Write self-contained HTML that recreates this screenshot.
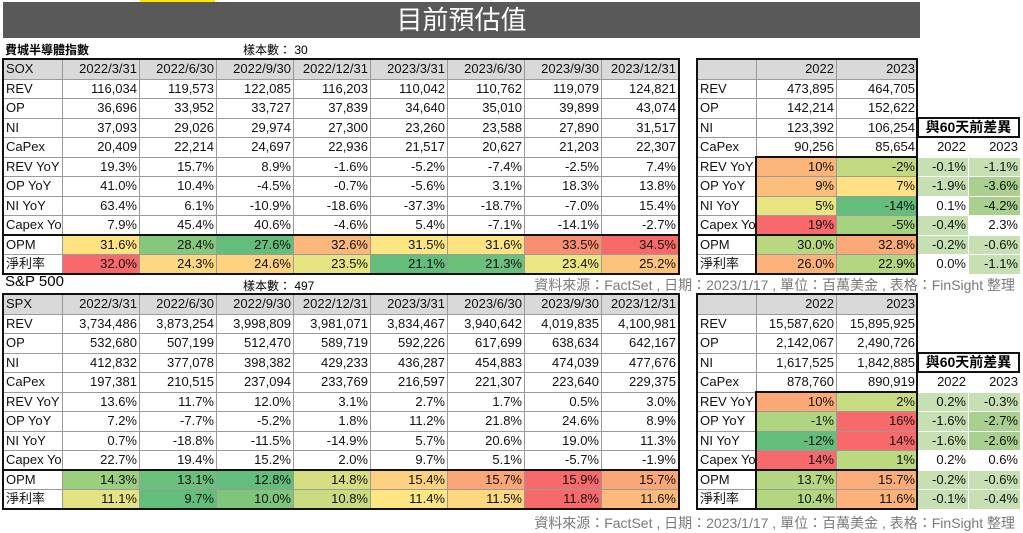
<!DOCTYPE html>
<html><head><meta charset="utf-8"><style>
body{margin:0;width:1023px;height:532px;background:#fff;position:relative;overflow:hidden;font-family:"Liberation Sans","Noto Sans CJK TC",sans-serif;}
.a{position:absolute}
table{position:absolute;border-collapse:collapse;table-layout:fixed;font-size:13px;color:#111}
td{border:1px solid #9a9a9a;height:18.5px;padding:0 2px;text-align:right;white-space:nowrap;overflow:hidden;line-height:18px}
td.l{text-align:left}
td.n{border:1px solid transparent}
tr.h td{background:#d9d9d9}
.box{position:absolute;border:2px solid #111;box-sizing:border-box}
.src{position:absolute;right:8px;font-size:14px;color:#7a7a7a}
.g{background:#c6e0b4}.g2{background:#a9d08e}
</style></head><body>
<div class="a" style="left:140px;top:0;width:75px;height:2px;background:#ffe600"></div>
<div class="a" style="left:3px;top:2px;width:917px;height:36px;background:#595959;color:#fff;font-size:26px;text-align:center;line-height:36px">目前預估值</div>
<div class="a" style="left:5px;top:41px;font-size:12px;font-weight:bold">費城半導體指數</div>
<div class="a" style="left:243px;top:41px;font-size:12px">樣本數： 30</div>

<table style="left:3px;top:59px;width:676px"><colgroup><col style="width:59px"><col span="8" style="width:77px"></colgroup>
<tr class="h"><td class="l">SOX</td><td>2022/3/31</td><td>2022/6/30</td><td>2022/9/30</td><td>2022/12/31</td><td>2023/3/31</td><td>2023/6/30</td><td>2023/9/30</td><td>2023/12/31</td></tr>
<tr><td class="l">REV</td><td>116,034</td><td>119,573</td><td>122,085</td><td>116,203</td><td>110,042</td><td>110,762</td><td>119,079</td><td>124,821</td></tr>
<tr><td class="l">OP</td><td>36,696</td><td>33,952</td><td>33,727</td><td>37,839</td><td>34,640</td><td>35,010</td><td>39,899</td><td>43,074</td></tr>
<tr><td class="l">NI</td><td>37,093</td><td>29,026</td><td>29,974</td><td>27,300</td><td>23,260</td><td>23,588</td><td>27,890</td><td>31,517</td></tr>
<tr><td class="l">CaPex</td><td>20,409</td><td>22,214</td><td>24,697</td><td>22,936</td><td>21,517</td><td>20,627</td><td>21,203</td><td>22,307</td></tr>
<tr><td class="l">REV YoY</td><td>19.3%</td><td>15.7%</td><td>8.9%</td><td>-1.6%</td><td>-5.2%</td><td>-7.4%</td><td>-2.5%</td><td>7.4%</td></tr>
<tr><td class="l">OP YoY</td><td>41.0%</td><td>10.4%</td><td>-4.5%</td><td>-0.7%</td><td>-5.6%</td><td>3.1%</td><td>18.3%</td><td>13.8%</td></tr>
<tr><td class="l">NI YoY</td><td>63.4%</td><td>6.1%</td><td>-10.9%</td><td>-18.6%</td><td>-37.3%</td><td>-18.7%</td><td>-7.0%</td><td>15.4%</td></tr>
<tr><td class="l">Capex YoY</td><td>7.9%</td><td>45.4%</td><td>40.6%</td><td>-4.6%</td><td>5.4%</td><td>-7.1%</td><td>-14.1%</td><td>-2.7%</td></tr>
<tr><td class="l">OPM</td><td style="background:#fee382">31.6%</td><td style="background:#85c87d">28.4%</td><td style="background:#63be7b">27.6%</td><td style="background:#fcb77a">32.6%</td><td style="background:#fee683">31.5%</td><td style="background:#fee382">31.6%</td><td style="background:#f98e72">33.5%</td><td style="background:#f8696b">34.5%</td></tr>
<tr><td class="l">淨利率</td><td style="background:#f8696b">32.0%</td><td style="background:#fed880">24.3%</td><td style="background:#fed27f">24.6%</td><td style="background:#e6e483">23.5%</td><td style="background:#63be7b">21.1%</td><td style="background:#6bc07c">21.3%</td><td style="background:#ebe582">23.4%</td><td style="background:#fdc37d">25.2%</td></tr>
</table>
<div class="box" style="left:2px;top:58px;width:678px;height:217px"></div>
<div class="box" style="left:2px;top:234px;width:678px;height:41px"></div>

<table style="left:697px;top:59px;width:220px"><colgroup><col style="width:59px"><col style="width:80px"><col style="width:81px"></colgroup>
<tr class="h"><td></td><td>2022</td><td>2023</td></tr>
<tr><td class="l">REV</td><td>473,895</td><td>464,705</td></tr>
<tr><td class="l">OP</td><td>142,214</td><td>152,622</td></tr>
<tr><td class="l">NI</td><td>123,392</td><td>106,254</td></tr>
<tr><td class="l">CaPex</td><td>90,256</td><td>85,654</td></tr>
<tr><td class="l">REV YoY</td><td style="background:#fbb47a">10%</td><td style="background:#c1da81">-2%</td></tr>
<tr><td class="l">OP YoY</td><td style="background:#fcbf7b">9%</td><td style="background:#ffe083">7%</td></tr>
<tr><td class="l">NI YoY</td><td style="background:#e9e583">5%</td><td style="background:#63be7b">-14%</td></tr>
<tr><td class="l">Capex YoY</td><td style="background:#f8696b">19%</td><td style="background:#a7d27f">-5%</td></tr>
<tr><td class="l">OPM</td><td style="background:#b9d780">30.0%</td><td style="background:#fbaa77">32.8%</td></tr>
<tr><td class="l">淨利率</td><td style="background:#fcb27a">26.0%</td><td style="background:#b4d680">22.9%</td></tr>
</table>
<div class="box" style="left:696px;top:58px;width:222px;height:217px"></div>
<div class="box" style="left:755px;top:156px;width:163px;height:119px"></div>
<div class="box" style="left:696px;top:234px;width:222px;height:41px"></div>

<div class="box" style="left:917px;top:117px;width:103px;height:21px;font-size:14px;font-weight:bold;line-height:17px;text-align:center">與60天前差異</div>
<table style="left:917px;top:137px;width:103px;font-size:13px"><colgroup><col style="width:51px"><col style="width:52px"></colgroup>
<tr><td class="n">2022</td><td class="n">2023</td></tr>
<tr><td class="n g">-0.1%</td><td class="n g">-1.1%</td></tr>
<tr><td class="n g">-1.9%</td><td class="n g2">-3.6%</td></tr>
<tr><td class="n">0.1%</td><td class="n g2">-4.2%</td></tr>
<tr><td class="n g">-0.4%</td><td class="n">2.3%</td></tr>
<tr><td class="n g">-0.2%</td><td class="n g">-0.6%</td></tr>
<tr><td class="n">0.0%</td><td class="n g">-1.1%</td></tr>
</table>

<div class="src" style="top:275px">資料來源：FactSet , 日期：2023/1/17 , 單位：百萬美金 , 表格：FinSight 整理</div>
<div class="a" style="left:5px;top:273px;font-size:15px">S&amp;P 500</div>
<div class="a" style="left:243px;top:277px;font-size:12px">樣本數： 497</div>

<table style="left:3px;top:294px;width:676px"><colgroup><col style="width:59px"><col span="8" style="width:77px"></colgroup>
<tr class="h"><td class="l">SPX</td><td>2022/3/31</td><td>2022/6/30</td><td>2022/9/30</td><td>2022/12/31</td><td>2023/3/31</td><td>2023/6/30</td><td>2023/9/30</td><td>2023/12/31</td></tr>
<tr><td class="l">REV</td><td>3,734,486</td><td>3,873,254</td><td>3,998,809</td><td>3,981,071</td><td>3,834,467</td><td>3,940,642</td><td>4,019,835</td><td>4,100,981</td></tr>
<tr><td class="l">OP</td><td>532,680</td><td>507,199</td><td>512,470</td><td>589,719</td><td>592,226</td><td>617,699</td><td>638,634</td><td>642,167</td></tr>
<tr><td class="l">NI</td><td>412,832</td><td>377,078</td><td>398,382</td><td>429,233</td><td>436,287</td><td>454,883</td><td>474,039</td><td>477,676</td></tr>
<tr><td class="l">CaPex</td><td>197,381</td><td>210,515</td><td>237,094</td><td>233,769</td><td>216,597</td><td>221,307</td><td>223,640</td><td>229,375</td></tr>
<tr><td class="l">REV YoY</td><td>13.6%</td><td>11.7%</td><td>12.0%</td><td>3.1%</td><td>2.7%</td><td>1.7%</td><td>0.5%</td><td>3.0%</td></tr>
<tr><td class="l">OP YoY</td><td>7.2%</td><td>-7.7%</td><td>-5.2%</td><td>1.8%</td><td>11.2%</td><td>21.8%</td><td>24.6%</td><td>8.9%</td></tr>
<tr><td class="l">NI YoY</td><td>0.7%</td><td>-18.8%</td><td>-11.5%</td><td>-14.9%</td><td>5.7%</td><td>20.6%</td><td>19.0%</td><td>11.3%</td></tr>
<tr><td class="l">Capex YoY</td><td>22.7%</td><td>19.4%</td><td>15.2%</td><td>2.0%</td><td>9.7%</td><td>5.1%</td><td>-5.7%</td><td>-1.9%</td></tr>
<tr><td class="l">OPM</td><td style="background:#9bcf7f">14.3%</td><td style="background:#6bc07c">13.1%</td><td style="background:#63be7b">12.8%</td><td style="background:#d5df82">14.8%</td><td style="background:#fdd17f">15.4%</td><td style="background:#fba677">15.7%</td><td style="background:#f8696b">15.9%</td><td style="background:#fba677">15.7%</td></tr>
<tr><td class="l">淨利率</td><td style="background:#e4e383">11.1%</td><td style="background:#63be7b">9.7%</td><td style="background:#7fc67d">10.0%</td><td style="background:#c9dc81">10.8%</td><td style="background:#fee783">11.4%</td><td style="background:#fed880">11.5%</td><td style="background:#f8696b">11.8%</td><td style="background:#fcbb7b">11.6%</td></tr>
</table>
<div class="box" style="left:2px;top:293px;width:678px;height:217px"></div>
<div class="box" style="left:2px;top:469px;width:678px;height:41px"></div>

<table style="left:697px;top:294px;width:220px"><colgroup><col style="width:59px"><col style="width:80px"><col style="width:81px"></colgroup>
<tr class="h"><td></td><td>2022</td><td>2023</td></tr>
<tr><td class="l">REV</td><td>15,587,620</td><td>15,895,925</td></tr>
<tr><td class="l">OP</td><td>2,142,067</td><td>2,490,726</td></tr>
<tr><td class="l">NI</td><td>1,617,525</td><td>1,842,885</td></tr>
<tr><td class="l">CaPex</td><td>878,760</td><td>890,919</td></tr>
<tr><td class="l">REV YoY</td><td style="background:#fba877">10%</td><td style="background:#c9dc81">2%</td></tr>
<tr><td class="l">OP YoY</td><td style="background:#b0d580">-1%</td><td style="background:#f8696b">16%</td></tr>
<tr><td class="l">NI YoY</td><td style="background:#63be7b">-12%</td><td style="background:#f8696b">14%</td></tr>
<tr><td class="l">Capex YoY</td><td style="background:#f8696b">14%</td><td style="background:#bcd980">1%</td></tr>
<tr><td class="l">OPM</td><td style="background:#b4d680">13.7%</td><td style="background:#fbac78">15.7%</td></tr>
<tr><td class="l">淨利率</td><td style="background:#b4d680">10.4%</td><td style="background:#fcb27a">11.6%</td></tr>
</table>
<div class="box" style="left:696px;top:293px;width:222px;height:217px"></div>
<div class="box" style="left:755px;top:391px;width:163px;height:119px"></div>
<div class="box" style="left:696px;top:469px;width:222px;height:41px"></div>

<div class="box" style="left:917px;top:352px;width:103px;height:21px;font-size:14px;font-weight:bold;line-height:17px;text-align:center">與60天前差異</div>
<table style="left:917px;top:372px;width:103px"><colgroup><col style="width:51px"><col style="width:52px"></colgroup>
<tr><td class="n">2022</td><td class="n">2023</td></tr>
<tr><td class="n g">0.2%</td><td class="n g">-0.3%</td></tr>
<tr><td class="n g">-1.6%</td><td class="n g2">-2.7%</td></tr>
<tr><td class="n g">-1.6%</td><td class="n g2">-2.6%</td></tr>
<tr><td class="n">0.2%</td><td class="n">0.6%</td></tr>
<tr><td class="n g">-0.2%</td><td class="n g">-0.6%</td></tr>
<tr><td class="n g">-0.1%</td><td class="n g">-0.4%</td></tr>
</table>

<div class="src" style="top:513px">資料來源：FactSet , 日期：2023/1/17 , 單位：百萬美金 , 表格：FinSight 整理</div>
</body></html>
